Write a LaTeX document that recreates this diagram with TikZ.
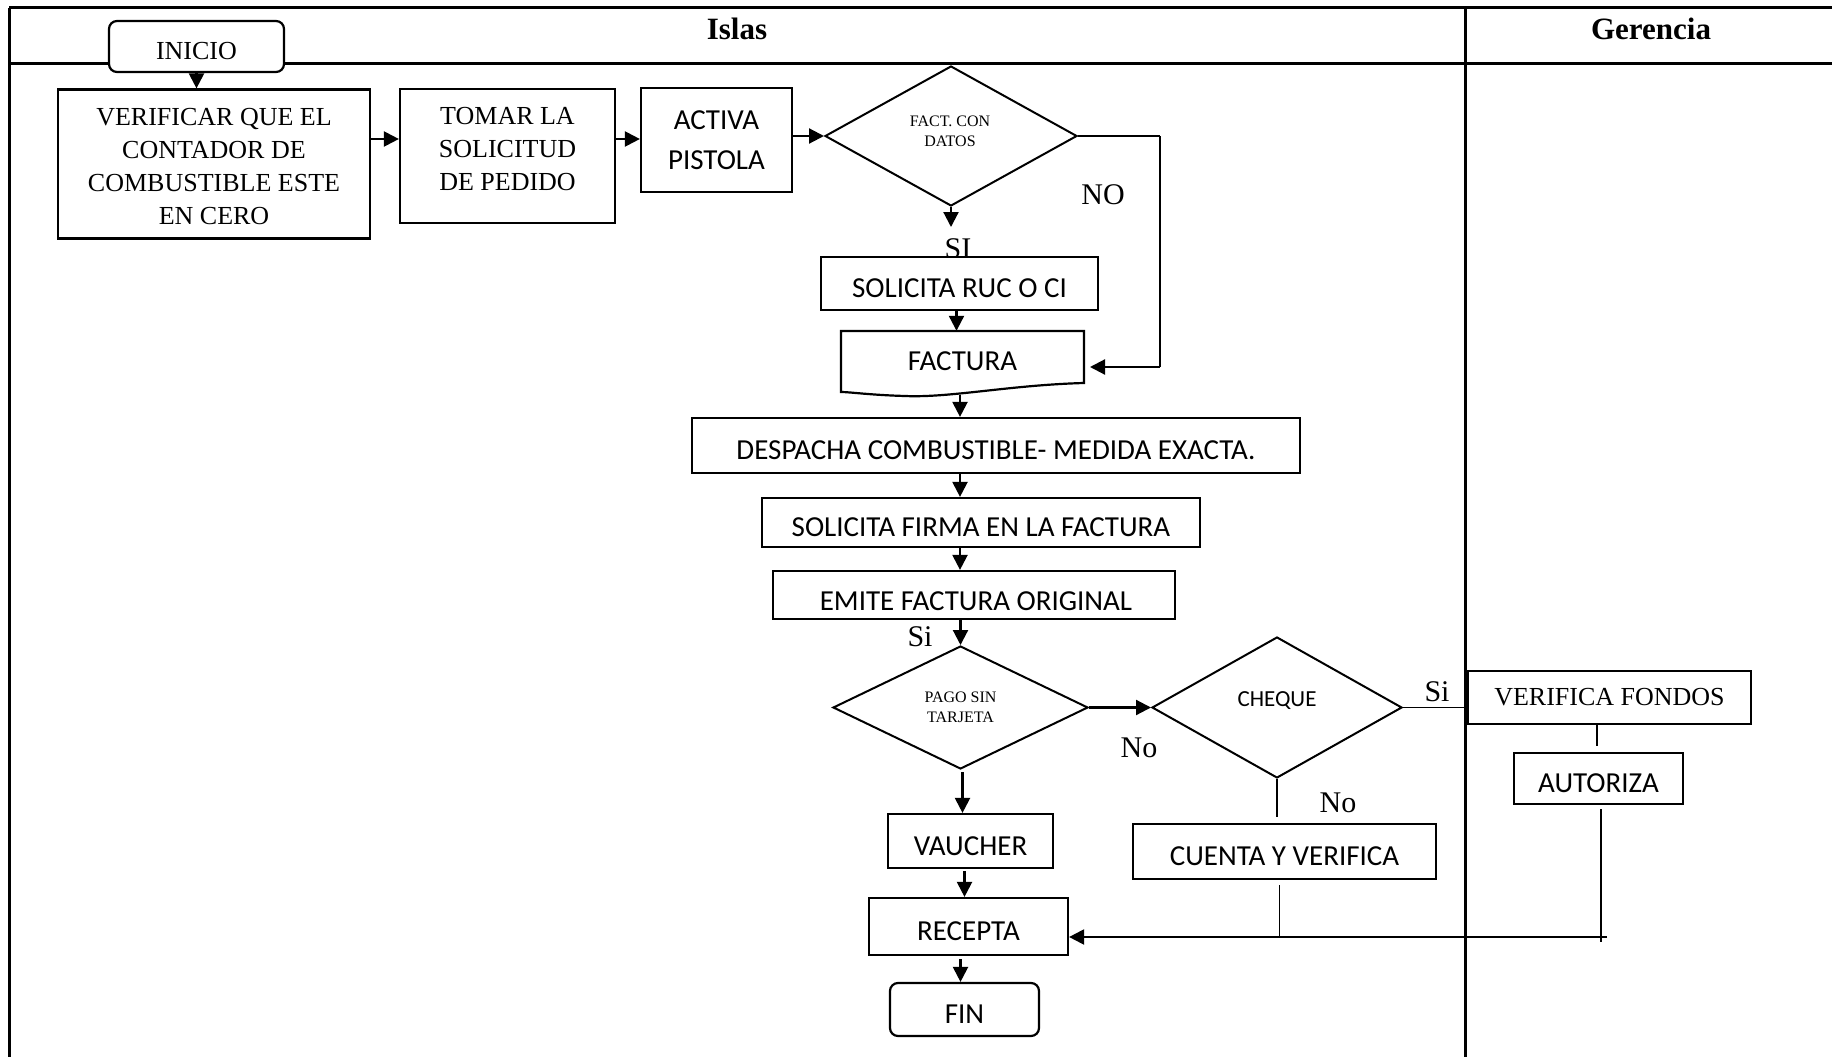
\documentclass[tikz,border=0pt]{standalone}
\usepackage{fontspec}
\setmainfont{Liberation Serif}
\newfontfamily\sansf{Carlito}
\usetikzlibrary{arrows.meta,shapes.geometric,calc}
\begin{document}
\begin{tikzpicture}[x=1pt,y=-1pt,
 frame/.style={line width=3pt},
 box/.style={draw,line width=2.2pt,fill=white,inner sep=0pt,align=center},
 ser/.style={font=\fontsize{26}{33}\selectfont},
 san/.style={font=\sansf\fontsize{29}{34}\selectfont},
 lowsan/.style={text height=28.5pt,text depth=0pt},
 lowser/.style={text height=26pt,text depth=0pt},
 dia/.style={draw,diamond,line width=2pt,inner sep=0pt,fill=white,align=center},
 arr/.style={line width=2.2pt,-{Triangle[length=15pt,width=15pt]}},
 thinl/.style={line width=1.3pt},
 lab/.style={font=\fontsize{30}{30}\selectfont}]
\useasboundingbox (0,0) rectangle (1832,1057);
% frame
\coordinate (fTL) at (9,8);
\coordinate (fTR) at (1832,8);
\coordinate (fHL) at (9,64);
\coordinate (fHR) at (1832,64);
\coordinate (fBL) at (9,1057);
\coordinate (dT) at (1465,8);
\coordinate (dB) at (1465,1057);
\draw[frame] (fTL) -- (fTR);
\draw[frame] (fHL) -- (fHR);
\draw[frame] (fTL) -- (fBL);
\draw[frame] (dT) -- (dB);
\node[font=\bfseries\fontsize{31}{31}\selectfont] (islas) at (737,29) {Islas};
\node[font=\bfseries\fontsize{31}{31}\selectfont] (ger) at (1651,29) {Gerencia};

% nodes
\node[box,ser,lowser,rounded corners=8pt,minimum width=175,minimum height=51] (ini) at (196.5,46.5) {INICIO};
\node[box,minimum width=312,minimum height=149] (ver) at (214,164) {};
\node[ser,align=center] (verT) at (214,167) {VERIFICAR QUE EL\\CONTADOR DE\\COMBUSTIBLE ESTE\\EN CERO};
\node[box,minimum width=215,minimum height=134] (tom) at (507.5,156) {};
\node[ser,align=center] (tomT) at (507.5,149) {TOMAR LA\\SOLICITUD\\DE PEDIDO};
\node[box,font=\sansf\fontsize{29}{40}\selectfont,minimum width=151,minimum height=104] (act) at (716.5,140) {ACTIVA\\PISTOLA};
\node[dia,minimum width=252,minimum height=140] (fact) at (951,136) {};
\node[font=\fontsize{16}{20}\selectfont,align=center] (factT) at (950,131) {FACT. CON\\DATOS};

\node[lab] (siL) at (958,249) {SI};
\node[box,san,lowsan,minimum width=277,minimum height=53] (sol) at (959.5,283.5) {SOLICITA RUC O CI};

\draw[line width=2.2pt,fill=white] (841,331) -- (1084,331) -- (1084,383)
  .. controls (1010,385) and (950,398) .. (905,396)
  .. controls (870,395) and (850,392) .. (841,392) -- cycle;
\node[san,minimum width=243,minimum height=61,inner sep=0pt] (fac) at (962.5,361.5) {FACTURA};

\node[box,san,lowsan,minimum width=608,minimum height=55] (des) at (996,445.5) {DESPACHA COMBUSTIBLE- MEDIDA EXACTA.};
\node[box,san,lowsan,minimum width=438,minimum height=49] (fir) at (981,522.5) {SOLICITA FIRMA EN LA FACTURA};
\node[box,minimum width=402,minimum height=48] (emi) at (974,595) {};
\node[san] (emiT) at (976,601) {EMITE FACTURA ORIGINAL};

\node[dia,minimum width=255,minimum height=123,font=\fontsize{16}{20}\selectfont] (pago) at (960.5,707.5) {PAGO SIN\\TARJETA};
\node[dia,minimum width=250,minimum height=141] (cheq) at (1277,707.5) {};
\node[font=\sansf\fontsize{23}{23}\selectfont] (cheqT) at (1277,701) {CHEQUE};

\node[box,ser,minimum width=283,minimum height=53] (vf) at (1609.5,697.5) {VERIFICA FONDOS};
\node[box,san,lowsan,minimum width=169,minimum height=51] (aut) at (1598.5,778.5) {AUTORIZA};
\node[box,san,lowsan,minimum width=303,minimum height=55] (cue) at (1284.5,851.5) {CUENTA Y VERIFICA};
\node[box,san,lowsan,minimum width=165,minimum height=54] (vau) at (970.5,841) {VAUCHER};
\node[box,san,lowsan,minimum width=199,minimum height=57] (rec) at (968.5,926.5) {RECEPTA};
\node[box,san,lowsan,rounded corners=8pt,minimum width=149,minimum height=53] (fin) at (964.5,1009.5) {FIN};

% labels
\node[lab] (noL) at (1103,195) {NO};
\node[lab] (siL2) at (920,637) {Si};
\node[lab] (noL2) at (1139,748) {No};
\node[lab] (siL3) at (1437,692) {Si};
\node[lab] (noL3) at (1338,803) {No};

% connectors
\coordinate (rowY) at (0,139);
\draw[arr] (ini.south) -- (ini.south |- ver.north);
\draw[arr] (ver.east |- rowY) -- (tom.west |- rowY);
\draw[arr] (tom.east |- rowY) -- (act.west |- rowY);
\draw[arr] (act.east |- fact.west) -- (fact.west);
\coordinate (siEnd) at (951,227);
\draw[arr] (fact.south) -- (siEnd);
\coordinate (noA) at (1160,136);
\coordinate (noB) at (1160,367);
\coordinate (noC) at (1090,367);
\draw[thinl] (fact.east) -- (noA);
\draw[line width=1.8pt] (noA) -- (noB);
\draw[arr] (noB) -- (noC);
\draw[arr] ($(sol.south)+(-3,0)$) -- ($(sol.south |- fac.north)+(-3,0)$);
\coordinate (facB) at (960,395);
\draw[arr] (facB) -- (facB |- des.north);
\draw[arr] (des.south -| facB) -- (fir.north -| facB);
\draw[arr] (fir.south -| facB) -- (emi.north -| facB);
\draw[arr] (emi.south -| pago.north) -- (pago.north);
\draw[arr] (pago.east) -- (cheq.west);
\draw[thinl] (cheq.east) -- (vf.west |- cheq.east);
\coordinate (vaX) at (1597,0);
\draw[thinl] (vf.south -| vaX) -- ($(aut.north -| vaX)+(0,-6)$);
\coordinate (autBot) at (1601,942);
\coordinate (hR) at (1607,937);
\coordinate (hM) at (1285,937);
\draw[thinl] ($(aut.south -| autBot)+(0,4)$) -- (autBot);
\draw[thinl] (hR) -- (hM);
\draw[arr] (hM) -- (rec.east |- hM);
\draw[thinl] (cheq.south) -- ($(cheq.south)+(0,38)$);
\draw[thinl] ($(cue.south)+(-5,5)$) -- ($(cue.south |- hM)+(-5,0)$);
\draw[arr] ($(pago.south)+(2,2)$) -- ($(pago.south |- vau.north)+(2,0)$);
\draw[arr] ($(vau.south)+(-6,2)$) -- ($(vau.south |- rec.north)+(-6,0)$);
\draw[arr] ($(rec.south)+(-8,3)$) -- ($(rec.south |- fin.north)+(-8,0)$);
\end{tikzpicture}
\end{document}
